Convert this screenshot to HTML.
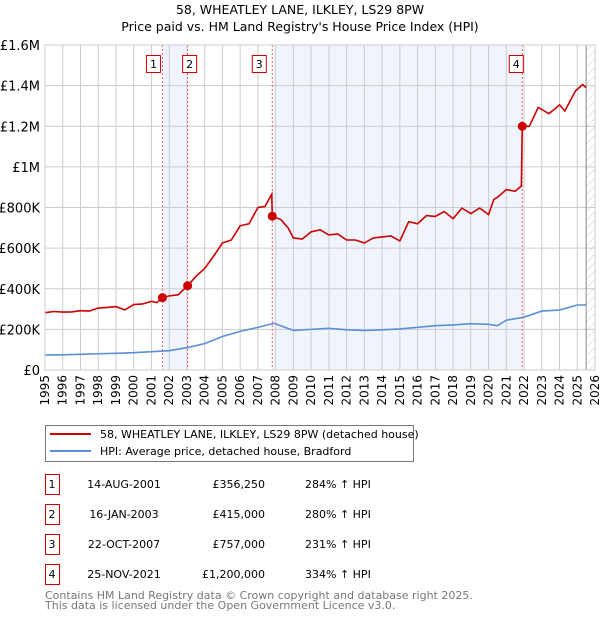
<!DOCTYPE html>
<html><head><meta charset="utf-8"><style>
body{margin:0;background:#fff;font-family:"DejaVu Sans","Liberation Sans",sans-serif;}
svg text{font-family:"DejaVu Sans","Liberation Sans",sans-serif;}
</style></head><body>
<svg id="c" width="600" height="620" xmlns="http://www.w3.org/2000/svg">
<defs><pattern id="hatch" width="6" height="6" patternUnits="userSpaceOnUse" patternTransform="rotate(45)"><line x1="0" y1="0" x2="0" y2="6" stroke="#ccc" stroke-width="1"/></pattern></defs>
<text x="300" y="14" text-anchor="middle" font-size="12.5">58, WHEATLEY LANE, ILKLEY, LS29 8PW</text>
<text x="300" y="31" text-anchor="middle" font-size="12.5">Price paid vs. HM Land Registry's House Price Index (HPI)</text>
<g id="plot"></g>
<g>
<rect x="45.5" y="425.5" width="368" height="36" fill="#fff" stroke="#777"/>
<line x1="50" y1="434" x2="91" y2="434" stroke="#cc0000" stroke-width="2"/>
<text x="100" y="438" font-size="11">58, WHEATLEY LANE, ILKLEY, LS29 8PW (detached house)</text>
<line x1="50" y1="451" x2="91" y2="451" stroke="#5b8fd6" stroke-width="2"/>
<text x="100" y="455" font-size="11">HPI: Average price, detached house, Bradford</text>
</g>
<g id="table" font-size="11"></g>
<text x="45" y="599" font-size="11" fill="#777">Contains HM Land Registry data © Crown copyright and database right 2025.</text>
<text x="45" y="609" font-size="11" fill="#777">This data is licensed under the Open Government Licence v3.0.</text>
</svg>
<script>
const yearTicks=[1995,1996,1997,1998,1999,2000,2001,2002,2003,2004,2005,2006,2007,2008,2009,2010,2011,2012,2013,2014,2015,2016,2017,2018,2019,2020,2021,2022,2023,2024,2025,2026];
const valueTicks=[0,200000,400000,600000,800000,1000000,1200000,1400000,1600000];
const valueTickLabels=["£0","£200K","£400K","£600K","£800K","£1M","£1.2M","£1.4M","£1.6M"];
const redYears=[1995,1995.5,1996,1996.5,1997,1997.5,1998,1998.5,1999,1999.5,2000,2000.5,2001,2001.3,2001.62,2002,2002.5,2003.04,2003.5,2004,2004.5,2005,2005.5,2006,2006.5,2007,2007.4,2007.78,2007.81,2008.3,2008.7,2009,2009.5,2010,2010.5,2011,2011.5,2012,2012.5,2013,2013.5,2014,2014.5,2015,2015.5,2016,2016.5,2017,2017.5,2018,2018.5,2019,2019.5,2020,2020.3,2020.5,2021,2021.5,2021.85,2021.9,2022.3,2022.8,2023.4,2023.8,2024,2024.3,2024.9,2025.3,2025.5];
const redValues=[282,288,285,286,292,290,305,308,312,296,322,325,338,332,356,365,370,415,460,500,560,625,640,710,720,800,805,866,757,740,700,650,645,680,690,665,670,640,640,625,650,655,660,635,730,720,760,756,780,745,797,770,797,765,840,850,888,880,906,1200,1200,1293,1262,1290,1306,1275,1374,1405,1390];
const hpiYears=[1995,1996,1997,1998,1999,2000,2001,2002,2003,2004,2005,2006,2007,2007.9,2009,2010,2011,2012,2013,2014,2015,2016,2017,2018,2019,2020,2020.5,2021,2022,2023,2024,2025,2025.5];
const hpiValues=[74,75,77,80,82,85,90,95,110,130,165,190,210,230,195,200,205,198,195,198,202,210,218,222,228,225,218,245,260,290,295,320,320];
const saleYears=[2001.62,2003.04,2007.81,2021.9];
const saleValues=[356250,415000,757000,1200000];
const saleLabels=["1","2","3","4"];
const saleDates=["14-AUG-2001","16-JAN-2003","22-OCT-2007","25-NOV-2021"];
const salePrices=["£356,250","£415,000","£757,000","£1,200,000"];
const saleHpi=["284% ↑ HPI","280% ↑ HPI","231% ↑ HPI","334% ↑ HPI"];

const NS="http://www.w3.org/2000/svg";
const X0=45,X1=595,Y0=370,Y1=45;
const xs=y=>X0+(y-1995)/(2026-1995)*(X1-X0);
const ys=v=>Y0-v/1600000*(Y0-Y1);
const plot=document.getElementById('plot');
function mk(tag,at,parent){const e=document.createElementNS(NS,tag);for(const k in at)e.setAttribute(k,at[k]);(parent||plot).appendChild(e);return e;}
// shading
let r=mk('rect',{x:xs(saleYears[0]),y:Y1,width:xs(saleYears[1])-xs(saleYears[0]),height:Y0-Y1,fill:'#f0f4fd'});


r=mk('rect',{x:xs(saleYears[2]),y:Y1,width:xs(saleYears[3])-xs(saleYears[2]),height:Y0-Y1,fill:'#f0f4fd'});


r=mk('rect',{x:xs(2025.5),y:Y1,width:X1-xs(2025.5),height:Y0-Y1,fill:'url(#hatch)'});


// grid
yearTicks.forEach(t=>{const l=mk('line',{x1:xs(t),x2:xs(t),y1:Y1,y2:Y0,stroke:'#ccc','stroke-width':1});


const tx=mk('text',{x:0,y:0,'font-size':12,'text-anchor':'end',transform:`translate(${xs(t)+4},${Y0+5}) rotate(-90)`});tx.textContent=t;

});
valueTicks.forEach((v,i)=>{const l=mk('line',{x1:X0,x2:X1,y1:ys(v),y2:ys(v),stroke:'#ccc','stroke-width':1});


const tx=mk('text',{x:X0-5,y:ys(v)+5,'font-size':13,'text-anchor':'end'});tx.textContent=valueTickLabels[i];

});
let ln=mk('line',{x1:xs(2025.5),x2:xs(2025.5),y1:Y1,y2:Y0,stroke:'#888','stroke-width':1});


// sale vlines & labels
saleYears.forEach((y,i)=>{const l=mk('line',{x1:xs(y),x2:xs(y),y1:Y1,y2:Y0,stroke:'#f06060','stroke-width':1,'stroke-dasharray':'2,2'});


const bx=mk('rect',{x:xs(y)-(i==0?10:i==1?-1:i==2?14:7)-6,y:55.5,width:14,height:17,fill:'#fff',stroke:'#cc0000'});


const tx=mk('text',{x:xs(y)-(i==0?10:i==1?-1:i==2?14:7)+1,y:68,'font-size':11,'text-anchor':'middle'});tx.textContent=saleLabels[i];

});
// lines
const hp=mk('polyline',{points:hpiYears.map((y,i)=>xs(y)+','+ys(hpiValues[i]*1000)).join(' '),fill:'none',stroke:'#5b8fd6','stroke-width':1.6});


const rp=mk('polyline',{points:redYears.map((y,i)=>xs(y)+','+ys(redValues[i]*1000)).join(' '),fill:'none',stroke:'#cc0000','stroke-width':1.6});


saleYears.forEach((y,i)=>{const c=mk('circle',{cx:xs(y),cy:ys(saleValues[i]),r:4.5,fill:'#cc0000'});

});
const fr=mk('rect',{x:X0,y:Y1,width:X1-X0,height:Y0-Y1,fill:'none',stroke:'#ccc'});


// table
const tb=document.getElementById('table');
saleLabels.forEach((s,i)=>{const y=483+i*30;
const b=mk('rect',{x:45.5,y:y-8.5,width:14,height:20,fill:'#fff',stroke:'#cc0000'},tb);


const vals=[[52,'middle',s],[124,'middle',saleDates[i]],[265,'end',salePrices[i]],[305,'start',saleHpi[i]]];
vals.forEach(v=>{const t=mk('text',{x:v[0],y:y+5,'text-anchor':v[1],'font-size':11},tb);t.textContent=v[2];

});});
</script>
</body></html>
